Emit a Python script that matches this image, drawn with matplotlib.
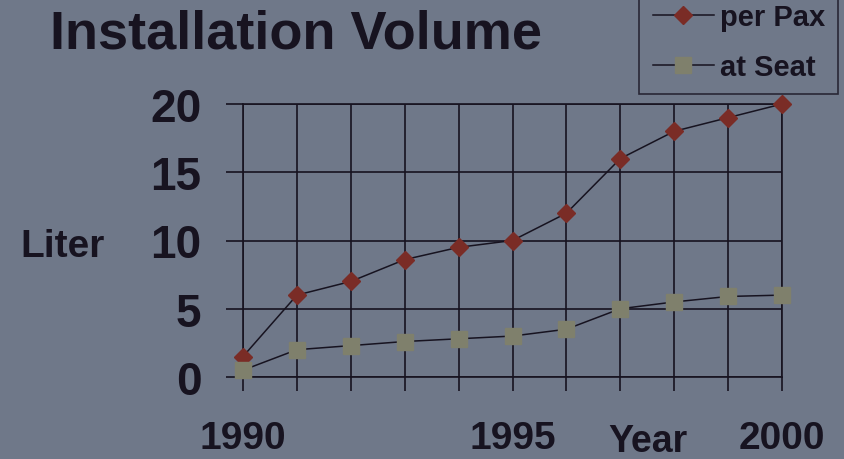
import matplotlib.pyplot as plt

# data
years = [1990, 1991, 1992, 1993, 1994, 1995, 1996, 1997, 1998, 1999, 2000]
per_pax = [1.5, 6, 7, 8.6, 9.5, 10, 12, 16, 18, 19, 20]
at_seat = [0.5, 2, 2.3, 2.6, 2.8, 3, 3.5, 5, 5.5, 5.9, 6]
x_labels = {1990: '1990', 1995: '1995', 2000: '2000'}
y_ticks = [0, 5, 10, 15, 20]

BG = '#6f7889'
INK = '#171320'
RED = '#7a2c26'
OLIVE = '#7f806c'

plt.rcParams['font.family'] = ['Liberation Sans', 'DejaVu Sans']
plt.rcParams['font.weight'] = 'bold'

fig = plt.figure(figsize=(8.45, 4.6), dpi=100, facecolor=BG)
ax = fig.add_axes([243/845, 1-378/460, (782-243)/845, (378-105)/460])
ax.set_facecolor(BG)

ax.plot(years, per_pax, color=INK, lw=1.1, marker='D', ms=9,
        mfc=RED, mec=RED, label='per Pax', clip_on=False, zorder=3)
ax.plot(years, at_seat, color=INK, lw=1.1, marker='s', ms=11,
        mfc=OLIVE, mec=OLIVE, label='at Seat', clip_on=False, zorder=3)

ax.set_xlim(1990, 2000)
ax.set_ylim(0, 20)
ax.set_xticks(years)
ax.set_xticklabels([x_labels.get(y, '') for y in years])
ax.set_yticks(y_ticks)
ax.grid(True, color=INK, lw=1.2)
for s in ax.spines.values():
    s.set_color(INK)
    s.set_linewidth(1.2)
ax.tick_params(axis='y', length=12, width=1.2, color=INK, pad=18,
               labelsize=33, labelcolor=INK)
ax.tick_params(axis='x', length=10, width=1.2, color=INK, pad=21,
               labelsize=28, labelcolor=INK)

fig.text(50/845, 1-49/460, 'Installation Volume', fontsize=39,
         color=INK, ha='left', va='baseline')
fig.text(20/845, 1-257/460, 'Liter', fontsize=28, color=INK,
         ha='left', va='baseline')
fig.text(608/845, 1-452/460, 'Year', fontsize=27, color=INK,
         ha='left', va='baseline')

leg = fig.legend(loc='lower right', bbox_to_anchor=(838/845, 1-95/460),
                 borderaxespad=0, fontsize=21, frameon=True, fancybox=False,
                 handlelength=2.1, handletextpad=0.2, labelspacing=0.75,
                 borderpad=0.45)
leg.get_frame().set_facecolor(BG)
leg.get_frame().set_edgecolor(INK)
leg.get_frame().set_linewidth(1.2)
for t in leg.get_texts():
    t.set_color(INK)

fig.savefig('out.png', dpi=100, facecolor=BG)
